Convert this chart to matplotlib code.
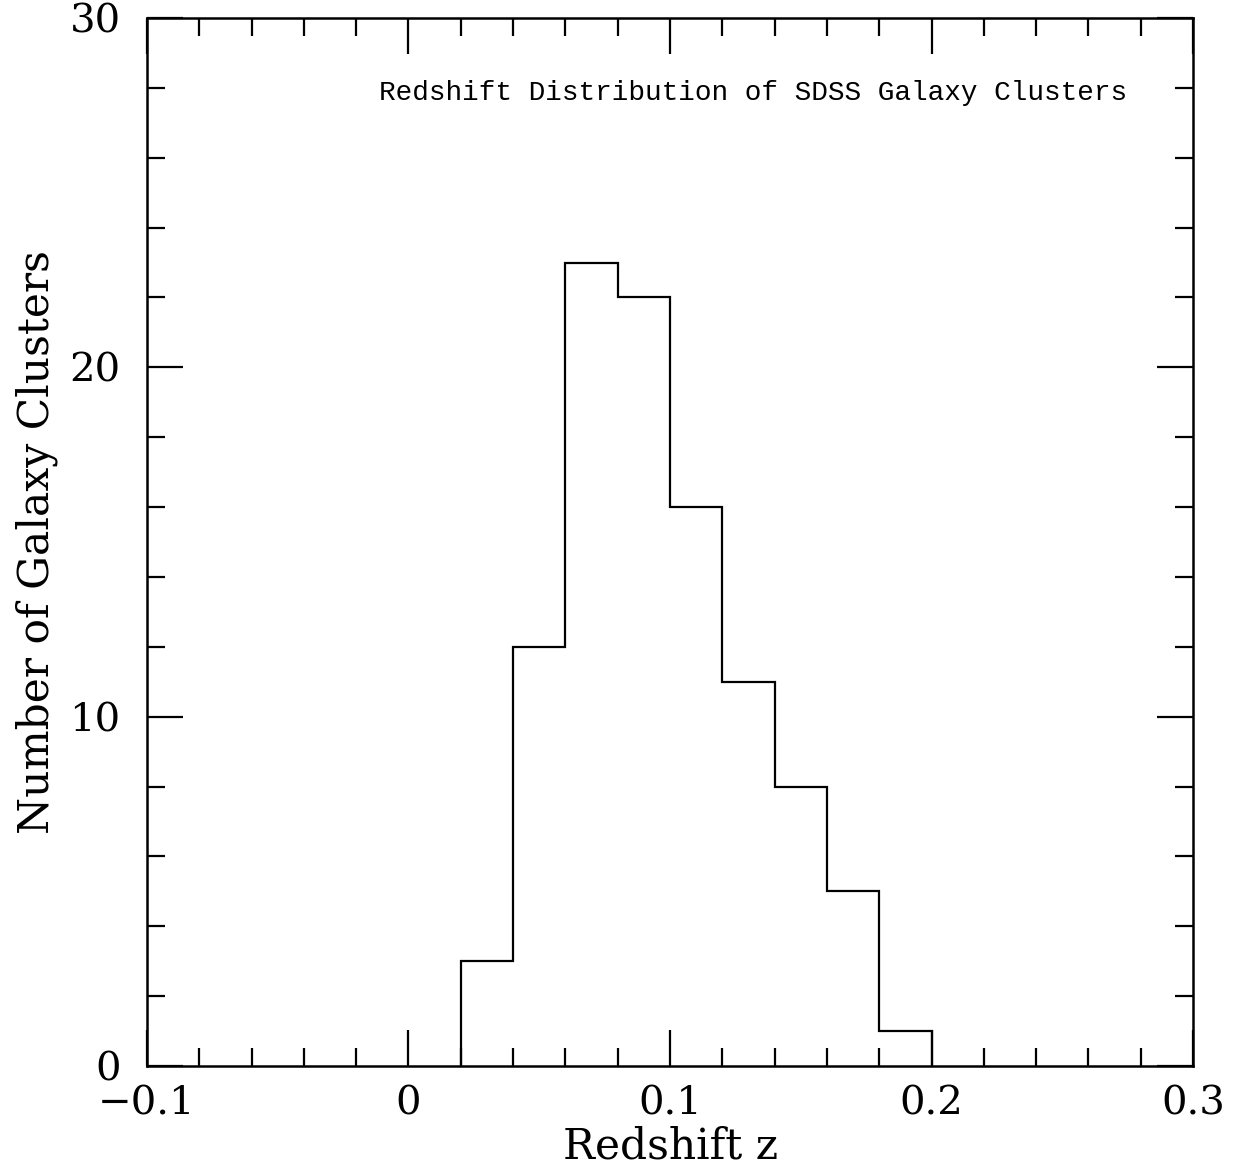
import matplotlib
matplotlib.use("Agg")
import matplotlib.pyplot as plt
from matplotlib.ticker import MultipleLocator, FuncFormatter

# histogram of cluster redshifts (bin edges and counts)
bin_edges = [0.02, 0.04, 0.06, 0.08, 0.10, 0.12, 0.14, 0.16, 0.18, 0.20]
counts = [3, 12, 23, 22, 16, 11, 8, 5, 1]

title_text = "Redshift Distribution of SDSS Galaxy Clusters"
x_label = "Redshift z"
y_label = "Number of Galaxy Clusters"


def fmt_x(v, pos):
    if abs(v) < 1e-9:
        return "0"
    return f"{v:.1f}".replace("-", "\u2212")


def main():
    plt.rcParams["font.family"] = "DejaVu Serif"
    fig = plt.figure(figsize=(12.34, 11.74), dpi=100)
    ax = fig.add_axes([0.1191, 0.0920, 0.8477, 0.8927])

    ax.stairs(counts, bin_edges, color="black", linewidth=1.6, baseline=0)

    ax.set_xlim(-0.1, 0.3)
    ax.set_ylim(0, 30)

    ax.xaxis.set_major_locator(MultipleLocator(0.1))
    ax.xaxis.set_minor_locator(MultipleLocator(0.02))
    ax.yaxis.set_major_locator(MultipleLocator(10))
    ax.yaxis.set_minor_locator(MultipleLocator(2))
    ax.xaxis.set_major_formatter(FuncFormatter(fmt_x))
    ax.yaxis.set_major_formatter(FuncFormatter(lambda v, p: f"{v:.0f}"))

    ax.tick_params(which="both", direction="in", top=True, right=True,
                   width=1.6, colors="black")
    ax.tick_params(which="major", length=26, labelsize=29)
    ax.tick_params(axis="x", which="major", pad=14)
    ax.tick_params(axis="y", which="major", pad=19)
    ax.tick_params(which="minor", length=13)
    for side in ax.spines.values():
        side.set_linewidth(1.8)

    ax.set_xlabel(x_label, fontsize=30.5, labelpad=2)
    ax.set_ylabel(y_label, fontsize=30.5, labelpad=8)
    ax.text(0.579, 0.928, title_text, transform=ax.transAxes, ha="center",
            va="center", fontsize=20, family="Liberation Mono")

    fig.savefig("out.png", dpi=100)


if __name__ == "__main__":
    main()
